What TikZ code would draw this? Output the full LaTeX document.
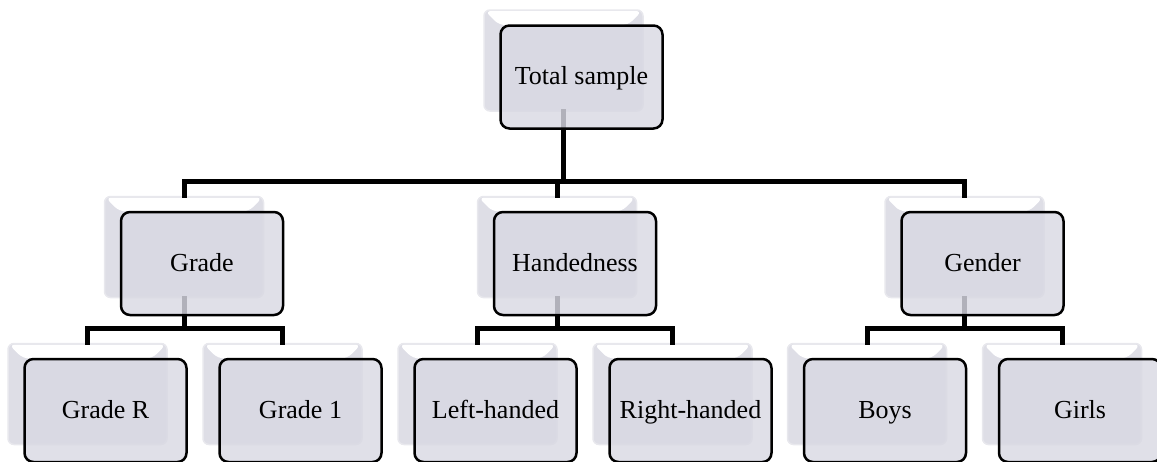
\documentclass[tikz,border=0pt]{standalone}
\usepackage{fontspec}
\setmainfont{Liberation Serif}
\definecolor{frontfill}{RGB}{217,217,227}
\definecolor{bevgray}{RGB}{222,222,230}
\definecolor{backedge}{RGB}{232,232,237}
\tikzset{
  backbox/.style={rectangle, rounded corners=6pt, minimum width=159pt, minimum height=101pt,
    fill=bevgray, draw=backedge, line width=1.5pt, inner sep=0pt,
    path picture={
      \fill[white] ([xshift=1pt,yshift=-1pt]path picture bounding box.north west)
        -- ([xshift=-1pt,yshift=-1pt]path picture bounding box.north east)
        -- ([xshift=-15pt,yshift=-15pt]path picture bounding box.north east)
        -- ([xshift=15pt,yshift=-15pt]path picture bounding box.north west) -- cycle;
    }},
  frontbox/.style={rectangle, rounded corners=9pt, minimum width=162pt, minimum height=103pt,
    fill=frontfill, fill opacity=0.82, text opacity=1, draw=black, draw opacity=1,
    line width=2.5pt, inner sep=0pt, text height=18pt, text depth=3pt,
    font=\fontsize{26}{30}\selectfont},
  conn/.style={line width=5pt, black, line cap=rect}
}
\begin{document}
\begin{tikzpicture}[x=1pt,y=-1pt]
\useasboundingbox (0,0) rectangle (1157,461);
% back boxes
\foreach \n/\x/\y in {t/563.5/60.5, g/184/247, h/557/247, e/964.5/247,
  gr/87.5/394, go/282.5/394, lh/477.5/394, rh/672.5/394, bo/867/394, gi/1062/394}{
  \node[backbox] (\n b) at (\x,\y) {};
}
% bus coordinates
\coordinate (bus1) at (0,181);
\coordinate (bus2) at (0,328);
% connectors
\foreach \c in {g,h,e}{
  \draw[conn] (tb.south) -- (tb.south |- bus1) -| (\c b.north);
}
\draw[conn] (gb.south) -- (gb.south |- bus2) -| (grb.north);
\draw[conn] (gb.south) -- (gb.south |- bus2) -| (gob.north);
\draw[conn] (hb.south) -- (hb.south |- bus2) -| (lhb.north);
\draw[conn] (hb.south) -- (hb.south |- bus2) -| (rhb.north);
\draw[conn] (eb.south) -- (eb.south |- bus2) -| (bob.north);
\draw[conn] (eb.south) -- (eb.south |- bus2) -| (gib.north);
% front boxes
\foreach \n/\txt in {t/Total sample, g/Grade, h/Handedness, e/Gender,
  gr/Grade R, go/Grade 1, lh/Left-handed, rh/Right-handed, bo/Boys, gi/Girls}{
  \node[frontbox] (\n) at ([xshift=18pt,yshift=-16.5pt]\n b.center) {\txt};
}
\end{tikzpicture}
\end{document}
